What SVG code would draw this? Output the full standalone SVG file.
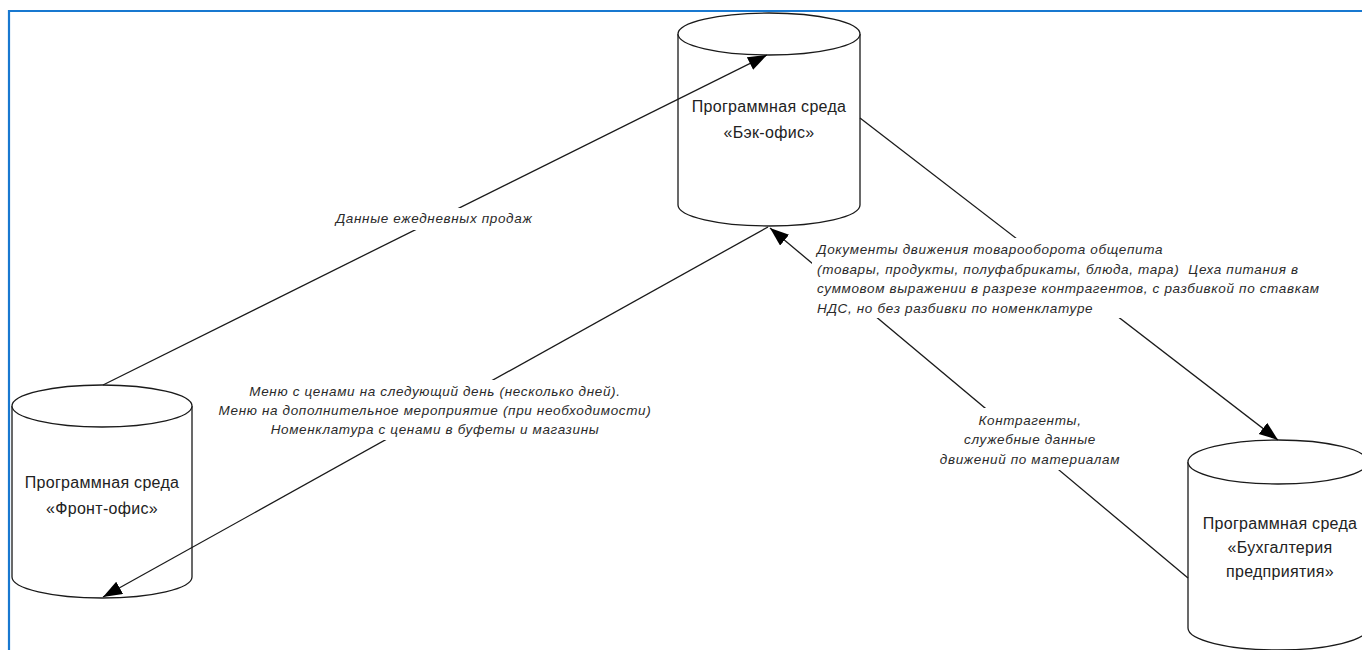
<svg xmlns="http://www.w3.org/2000/svg" width="1362" height="650" viewBox="0 0 1362 650">
<defs>
<style>
.cyl{fill:#fff;stroke:#1a1a1a;stroke-width:1.3}
.conn{fill:none;stroke:#1a1a1a;stroke-width:1.3}
.nt{font-family:"Liberation Sans",Arial,sans-serif;font-size:16px;letter-spacing:0.3px;fill:#222;text-anchor:middle}
.lt{font-family:"Liberation Sans",Arial,sans-serif;font-style:italic;font-size:13.5px;letter-spacing:0.65px;fill:#2a2a2a}
.bg{fill:#fff;stroke:none}
</style>
<marker id="arr" markerUnits="userSpaceOnUse" markerWidth="22" markerHeight="16" refX="19" refY="7" orient="auto">
<path d="M0,0 L19,7 L0,14 z" fill="#000"/>
</marker>
</defs>
<rect x="0" y="0" width="1362" height="650" fill="#fff"/>
<path d="M9,650 L9,11 L1362,11" fill="none" stroke="#1878d0" stroke-width="2.2"/>

<g id="back-office">
<path class="cyl" d="M678,34 L678,205 A91,21 0 0 0 860,205 L860,34"/>
<ellipse class="cyl" cx="769" cy="34" rx="91" ry="21"/>
<text class="nt" x="769" y="112">Программная среда</text>
<text class="nt" x="769" y="138">«Бэк-офис»</text>
</g>

<g id="front-office">
<path class="cyl" d="M12,406 L12,577 A90,21 0 0 0 192,577 L192,406"/>
<ellipse class="cyl" cx="102" cy="406" rx="90" ry="21"/>
<text class="nt" x="102" y="488">Программная среда</text>
<text class="nt" x="102" y="514">«Фронт-офис»</text>
</g>

<g id="accounting">
<path class="cyl" d="M1188,462 L1188,628 A90,22 0 0 0 1368,628 L1368,462"/>
<ellipse class="cyl" cx="1278" cy="462" rx="90" ry="22"/>
<text class="nt" x="1280" y="529">Программная среда</text>
<text class="nt" x="1280" y="553">«Бухгалтерия</text>
<text class="nt" x="1280" y="577">предприятия»</text>
</g>

<g id="connectors">
<path class="conn" d="M103,385 L767,55" marker-end="url(#arr)"/>
<path class="conn" d="M768,227 L103,597" marker-end="url(#arr)"/>
<path class="conn" d="M860,118 L1278,440" marker-end="url(#arr)"/>
<path class="conn" d="M1188,578 L770,228" marker-end="url(#arr)"/>
<rect class="bg" x="330" y="208" width="208" height="22"/>
<text class="lt" x="434" y="223" text-anchor="middle">Данные ежедневных продаж</text>
<rect class="bg" x="215" y="380" width="442" height="60"/>
<text class="lt" x="435" y="396" text-anchor="middle">Меню с ценами на следующий день (несколько дней).</text>
<text class="lt" x="435" y="415" text-anchor="middle">Меню на дополнительное мероприятие (при необходимости)</text>
<text class="lt" x="435" y="434" text-anchor="middle">Номенклатура с ценами в буфеты и магазины</text>
<rect class="bg" x="812" y="238" width="490" height="80"/>
<text class="lt" x="817" y="254">Документы движения товарооборота общепита</text>
<text class="lt" x="817" y="274" xml:space="preserve">(товары, продукты, полуфабрикаты, блюда, тара)  Цеха питания в</text>
<text class="lt" x="817" y="293">суммовом выражении в разрезе контрагентов, с разбивкой по ставкам</text>
<text class="lt" x="817" y="313">НДС, но без разбивки по номенклатуре</text>
<rect class="bg" x="940" y="408" width="182" height="62"/>
<text class="lt" x="1030" y="425" text-anchor="middle">Контрагенты,</text>
<text class="lt" x="1030" y="444" text-anchor="middle">служебные данные</text>
<text class="lt" x="1030" y="464" text-anchor="middle">движений по материалам</text>
</g>
</svg>
